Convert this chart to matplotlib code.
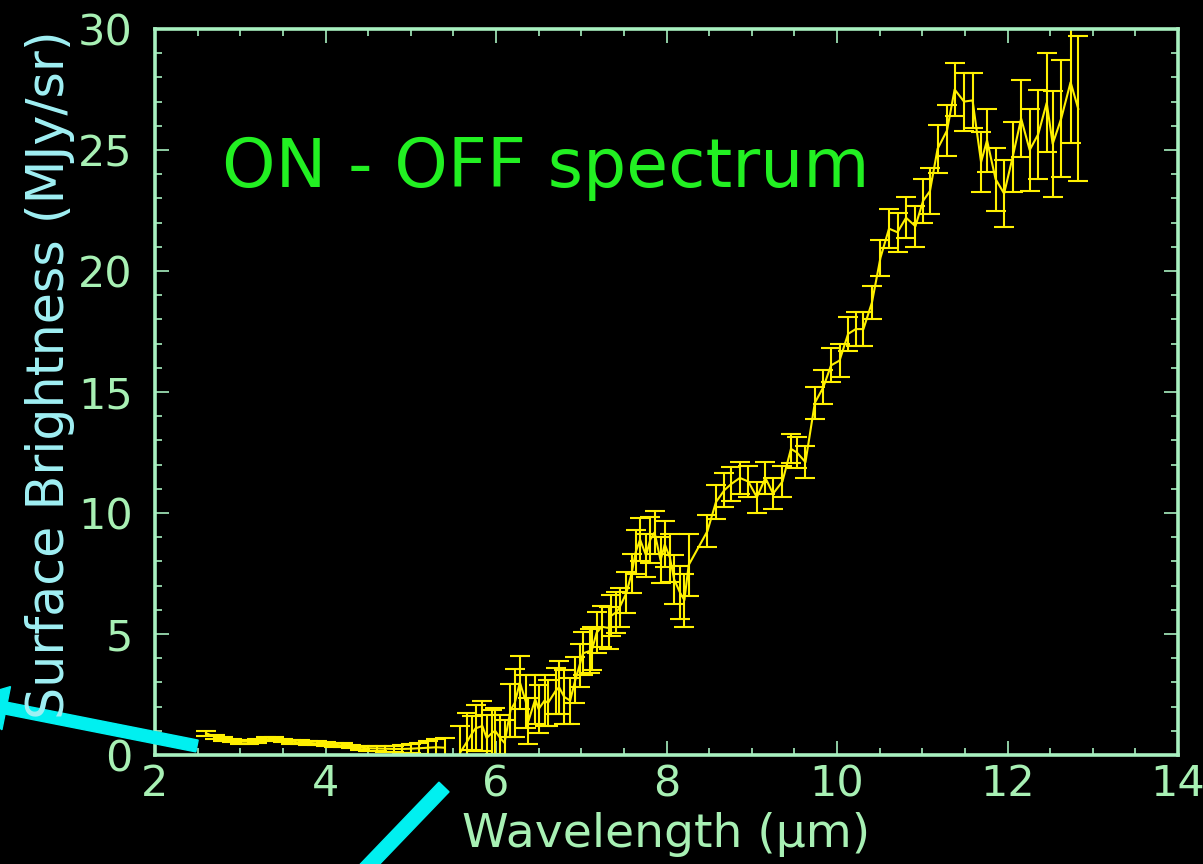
import matplotlib
matplotlib.use("Agg")
import matplotlib.pyplot as plt
from matplotlib.patches import FancyArrow
from matplotlib.transforms import IdentityTransform
from matplotlib.ticker import MultipleLocator

# Near-infrared part of the spectrum (dense sampling, small errors)
nir_wave = [2.6, 2.7, 2.8, 2.9, 3.0, 3.1, 3.2, 3.3, 3.4, 3.5, 3.6, 3.7, 3.8, 3.9,
            4.0, 4.1, 4.2, 4.3, 4.4, 4.5, 4.6, 4.7, 4.8, 4.9, 5.0, 5.1, 5.2, 5.3, 5.4]
nir_flux = [0.90, 0.75, 0.65, 0.60, 0.55, 0.55, 0.58, 0.65, 0.68, 0.60, 0.55, 0.52,
            0.50, 0.48, 0.45, 0.42, 0.40, 0.35, 0.30, 0.28, 0.27, 0.26, 0.25, 0.25,
            0.26, 0.28, 0.30, 0.32, 0.30]
nir_err = [0.10, 0.08, 0.08, 0.08, 0.08, 0.08, 0.08, 0.08, 0.08, 0.08, 0.08, 0.08,
           0.08, 0.08, 0.08, 0.08, 0.08, 0.08, 0.08, 0.10, 0.10, 0.12, 0.12, 0.15,
           0.18, 0.22, 0.28, 0.35, 0.40]

# Mid-infrared part of the spectrum
mir_wave = [5.58, 5.66, 5.72, 5.76, 5.84, 5.89, 5.95, 5.99, 6.05, 6.10, 6.17, 6.22,
            6.28, 6.35, 6.38, 6.46, 6.50, 6.57, 6.61, 6.70, 6.74, 6.80, 6.87, 6.93,
            6.98, 7.02, 7.10, 7.13, 7.18, 7.24, 7.32, 7.35, 7.41, 7.45, 7.53, 7.59,
            7.64, 7.69, 7.76, 7.81, 7.86, 7.93, 7.98, 8.04, 8.09, 8.16, 8.21, 8.26,
            8.48, 8.58, 8.68, 8.76, 8.86, 8.96, 9.06, 9.16, 9.25, 9.36, 9.46, 9.53,
            9.63, 9.74, 9.84, 9.93, 10.03, 10.13, 10.22, 10.31, 10.41, 10.51, 10.61,
            10.71, 10.81, 10.92, 11.01, 11.09, 11.18, 11.29, 11.38, 11.49, 11.59,
            11.69, 11.76, 11.86, 11.96, 12.06, 12.16, 12.26, 12.36, 12.46, 12.53,
            12.63, 12.74, 12.83]
mir_flux = [0.1, 0.55, 0.9, 1.1, 1.2, 0.7, 0.9, 1.0, 0.7, 0.5, 1.85, 2.15,
            3.0, 2.2, 1.4, 2.3, 1.9, 2.25, 2.15, 2.65, 2.8, 2.4, 2.25, 3.1,
            3.7, 4.2, 4.3, 4.4, 5.05, 5.3, 5.25, 5.75, 5.9, 6.1, 6.7, 7.5,
            8.4, 8.9, 8.25, 8.9, 9.2, 8.05, 8.7, 8.15, 7.25, 6.7, 6.4, 7.85,
            9.25, 10.45, 10.95, 11.2, 11.45, 11.3, 10.65, 11.45, 10.8, 11.3, 12.65, 12.5,
            12.1, 14.55, 15.2, 16.1, 16.3, 17.4, 17.6, 17.6, 18.7, 20.55, 21.75,
            21.6, 22.2, 21.85, 22.9, 23.3, 25.05, 25.8, 27.5, 27.0, 27.05,
            24.5, 25.4, 23.8, 23.2, 24.7, 26.3, 25.0, 25.65, 26.95, 25.25,
            26.3, 27.8, 26.7]
mir_err = [1.1, 1.2, 0.7, 0.95, 1.05, 0.95, 0.95, 0.95, 0.95, 0.95, 1.1, 1.4,
           1.1, 1.1, 0.95, 1.0, 1.0, 1.05, 0.95, 0.95, 1.1, 1.1, 0.95, 0.95,
           0.9, 0.9, 0.9, 0.9, 0.85, 0.85, 0.85, 0.85, 0.85, 0.8, 0.85, 0.8,
           0.9, 0.9, 0.9, 0.95, 0.9, 0.95, 0.95, 1.0, 1.0, 1.1, 1.1, 1.3,
           0.65, 0.7, 0.7, 0.7, 0.65, 0.65, 0.65, 0.65, 0.65, 0.65, 0.6, 0.65,
           0.65, 0.65, 0.7, 0.7, 0.7, 0.7, 0.7, 0.7, 0.7, 0.75, 0.8,
           0.8, 0.85, 0.85, 0.9, 0.95, 1.0, 1.05, 1.1, 1.2, 1.15,
           1.25, 1.3, 1.3, 1.4, 1.45, 1.6, 1.7, 1.85, 2.05, 2.2,
           2.4, 2.5, 3.0]

x_ticks = [2, 4, 6, 8, 10, 12, 14]
y_ticks = [0, 5, 10, 15, 20, 25, 30]

AXIS_GREEN = "#a8f0c0"
LABEL_GREEN = "#a8f0b4"
LABEL_CYAN = "#a0f0f4"
DATA_YELLOW = "#fff000"
TITLE_GREEN = "#22f022"
ARROW_CYAN = "#00f0f0"

W, H = 1203, 864
fig = plt.figure(figsize=(W / 100, H / 100), dpi=100, facecolor="black")
ax = fig.add_axes([155 / W, 1 - 755 / H, (1178 - 155) / W, (755 - 29) / H])
ax.set_facecolor("black")

style = dict(color=DATA_YELLOW, ecolor=DATA_YELLOW, lw=1.5, elinewidth=1.5,
             capsize=7, capthick=1.5, clip_on=True)
ax.errorbar(nir_wave, nir_flux, yerr=nir_err, **style)
ax.errorbar(mir_wave, mir_flux, yerr=mir_err, **style)

ax.set_xlim(2, 14)
ax.set_ylim(0, 30)
ax.set_xticks(x_ticks)
ax.set_yticks(y_ticks)
ax.xaxis.set_minor_locator(MultipleLocator(0.5))
ax.yaxis.set_minor_locator(MultipleLocator(1))

for sp in ax.spines.values():
    sp.set_color(AXIS_GREEN)
    sp.set_linewidth(2.6)

ax.tick_params(which="both", direction="in", top=True, right=True,
               color=AXIS_GREEN, labelcolor=LABEL_GREEN)
ax.tick_params(which="major", length=10, width=1.2, labelsize=31)
ax.tick_params(which="minor", length=5, width=1.2)
ax.tick_params(axis="x", which="major", pad=6)
ax.tick_params(axis="y", which="major", pad=16)

ax.set_xlabel("Wavelength (μm)", color=LABEL_GREEN, fontsize=34, labelpad=5)
fig.text(50 / W, 1 - 375 / H, "Surface Brightness (MJy/sr)", color=LABEL_CYAN,
         fontsize=36.5, rotation=90, ha="center", va="center")

ax.text(546 / W, 1 - 168 / H, "ON - OFF spectrum", transform=fig.transFigure,
        color=TITLE_GREEN, fontsize=49, ha="center", va="center")

# Pointer arrows running off the edges of the figure
ident = IdentityTransform()
a1 = FancyArrow(197, H - 746, -232, 46, width=12, head_width=44, head_length=42,
                length_includes_head=True, color=ARROW_CYAN, transform=ident)
a2 = FancyArrow(444, H - 787, -120, -125, width=14, head_width=44, head_length=40,
                length_includes_head=True, color=ARROW_CYAN, transform=ident)
fig.add_artist(a1)
fig.add_artist(a2)

fig.savefig("out.png", dpi=100, facecolor="black")
